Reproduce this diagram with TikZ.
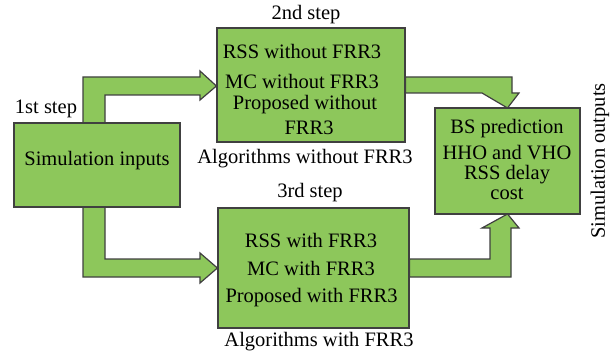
\documentclass[tikz,border=0pt]{standalone}
\usepackage{fontspec}
\setmainfont{Liberation Serif}
\newfontfamily\diagfont{Liberation Serif}
\begin{document}
\begin{tikzpicture}[x=1pt,y=-1pt,
  box/.style={draw=black!75,fill=boxgreen,line width=1.2pt,inner sep=0pt},
  barrow/.style={draw=black!75,fill=boxgreen,line width=1.2pt,line join=miter},
  frame/.style={draw=black!75,line width=1.2pt},
  txt/.style={inner sep=0pt,font=\diagfont\fontsize{20.5}{24}\selectfont,anchor=center}]
\definecolor{boxgreen}{HTML}{8DC75B}
\useasboundingbox (0,0) rectangle (615,358);
% boxes (nodes)
\node[box,minimum width=166pt,minimum height=84pt] (in) at (97,165) {};
\node[box,minimum width=188pt,minimum height=114pt] (wo) at (311,85) {};
\node[box,minimum width=191pt,minimum height=120pt] (wi) at (313.5,268) {};
\node[box,minimum width=145pt,minimum height=106pt] (out) at (507.5,161) {};
% block arrows
\draw[barrow] (83,123) -- (83,77) -- (200,77) -- (200,71) -- (wo.west |- 0,86) -- (200,100) -- (200,95) -- (105,95) -- (105,123) -- cycle;
\draw[barrow] (wo.east |- 0,77) -- (512,77) -- (512,93) -- (519,93) -- (out.north |- 0,108) -- (482,93) -- (wo.east |- 0,93) -- cycle;
\draw[barrow] (83,207) -- (83,277) -- (200,277) -- (200,283) -- (wi.west |- 0,268) -- (200,253) -- (200,259) -- (105,259) -- (105,207) -- cycle;
\draw[barrow] (wi.east |- 0,259) -- (490,259) -- (490,228) -- (482,228) -- (out.south |- 0,214) -- (519,228) -- (511,228) -- (511,277) -- (wi.east |- 0,277) -- cycle;
% redraw box borders over arrow ends
\draw[frame] (in.north west) rectangle (in.south east);
\draw[frame] (wo.north west) rectangle (wo.south east);
\draw[frame] (wi.north west) rectangle (wi.south east);
\draw[frame] (out.north west) rectangle (out.south east);
% texts
\node[txt] (t1) at (97,161) {Simulation inputs};
\node[txt] (s1) at (46,109) {1st step};
\node[txt] (s2) at (306,15) {2nd step};
\node[txt] (a1) at (302,51) {RSS without FRR3};
\node[txt] (a2) at (302,81) {MC without FRR3};
\node[txt] (a3) at (305,105) {Proposed without};
\node[txt] (a4) at (309,128) {FRR3};
\node[txt] (l1) at (305,159) {Algorithms without FRR3};
\node[txt] (s3) at (310,193) {3rd step};
\node[txt] (b1) at (311,240) {RSS with FRR3};
\node[txt] (b2) at (311,268) {MC with FRR3};
\node[txt] (b3) at (311.5,298) {Proposed with FRR3};
\node[txt] (l2) at (319,342) {Algorithms with FRR3};
\node[txt] (c1) at (507,129) {BS prediction};
\node[txt] (c2) at (507,153) {HHO and VHO};
\node[txt] (c3) at (507,175) {RSS delay};
\node[txt] (c4) at (507,194) {cost};
\node[txt,rotate=90] (so) at (600,161) {Simulation outputs};
\end{tikzpicture}
\end{document}
